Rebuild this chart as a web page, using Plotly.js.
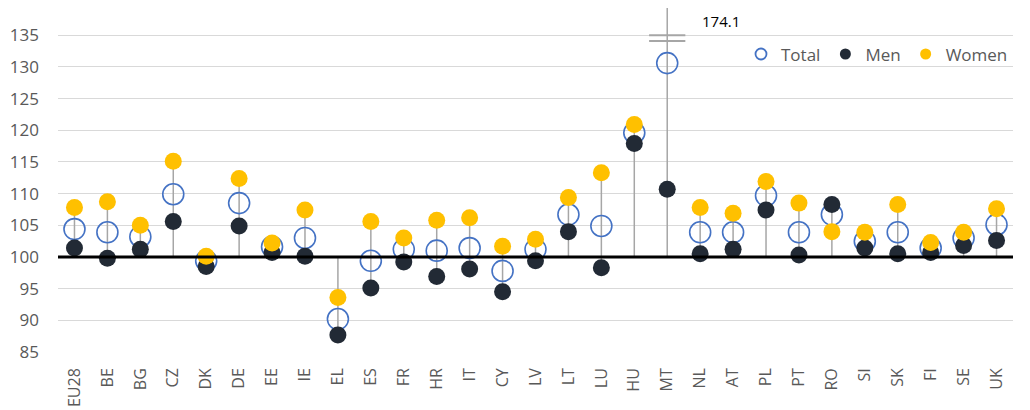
<!DOCTYPE html>
<html>
<head>
<meta charset="utf-8">
<script src="https://cdn.plot.ly/plotly-3.0.1.min.js"></script>
<style>html,body{margin:0;padding:0;background:#fff;}#chart{width:1030px;height:410px;}</style>
</head>
<body>
<div id="chart"></div>
<script>
const countries = ["EU28","BE","BG","CZ","DK","DE","EE","IE","EL","ES","FR","HR","IT","CY","LV","LT","LU","HU","MT","NL","AT","PL","PT","RO","SI","SK","FI","SE","UK"];
const total = [104.4,103.9,103.2,109.9,99.4,108.5,101.6,103.0,90.2,99.4,101.2,101.0,101.4,97.8,101.2,106.7,104.9,119.6,130.6,103.9,103.9,109.7,103.9,106.7,102.5,103.9,101.4,103.0,105.1];
const men = [101.4,99.8,101.2,105.6,98.5,104.9,100.7,100.1,87.7,95.1,99.2,96.9,98.1,94.5,99.4,104.0,98.3,117.9,110.7,100.5,101.2,107.4,100.3,108.3,101.4,100.5,100.7,101.8,102.6];
const women = [107.8,108.7,105.0,115.1,100.1,112.4,102.2,107.4,93.6,105.6,103.0,105.8,106.2,101.7,102.8,109.4,113.3,120.9,174.1,107.8,106.9,111.9,108.5,104.0,103.9,108.3,102.3,103.9,107.6];
const baseline = 100;
const yTicks = [85,90,95,100,105,110,115,120,125,130,135];
const outlierLabel = "174.1";
const outlierCountry = "MT";

const stemX = [], stemY = [];
countries.forEach((c, i) => {
  const vals = [baseline, total[i], men[i], women[i]];
  stemX.push(c, c, null);
  stemY.push(Math.min(...vals), Math.max(...vals), null);
});

const font = "Open Sans, Noto Sans, sans-serif";
const cTotal = "#4472C4", cMen = "#222A35", cWomen = "#FFC000";
const traces = [
  {x: stemX, y: stemY, mode: "lines", line: {color: "#A6A6A6", width: 1.5}, showlegend: false, hoverinfo: "skip"},
  {x: countries, y: total, name: "Total", mode: "markers", showlegend: false, marker: {symbol: "circle-open", size: 21, color: cTotal, line: {width: 1.6}}},
  {x: countries, y: men, name: "Men", mode: "markers", showlegend: false, marker: {symbol: "circle", size: 17, color: cMen}},
  {x: countries, y: women, name: "Women", mode: "markers", showlegend: false, marker: {symbol: "circle", size: 17, color: cWomen}},
  // legend entries with smaller symbols, as in the reference legend
  {x: [null], y: [null], name: "Total", mode: "markers", marker: {symbol: "circle-open", size: 11, color: cTotal, line: {width: 1.8}}},
  {x: [null], y: [null], name: "Men", mode: "markers", marker: {symbol: "circle", size: 11, color: cMen}},
  {x: [null], y: [null], name: "Women", mode: "markers", marker: {symbol: "circle", size: 11, color: cWomen}}
];

const mtIdx = countries.indexOf(outlierCountry);
const layout = {
  width: 1030, height: 410,
  margin: {l: 58, r: 17, t: 8, b: 58},
  paper_bgcolor: "#fff", plot_bgcolor: "#fff",
  font: {family: font, size: 16, color: "#595959"},
  showlegend: true,
  legend: {orientation: "h", x: 1.0, xanchor: "right", y: 0.865, yanchor: "middle", font: {size: 17, color: "#595959"}, bgcolor: "rgba(0,0,0,0)", itemwidth: 30, tracegroupgap: 0},
  xaxis: {type: "category", range: [-0.5, countries.length - 0.5], showgrid: false, zeroline: false, showline: false, ticks: "", tickangle: -90, tickfont: {size: 16, color: "#595959"}, ticklabelstandoff: 12},
  yaxis: {range: [85, 139.3], tickvals: yTicks, showgrid: true, gridcolor: "#D9D9D9", gridwidth: 1, zeroline: false, showline: false, ticks: "", tickfont: {size: 17, color: "#595959"}, ticklabelstandoff: 18},
  shapes: [
    {type: "line", xref: "paper", x0: 0, x1: 1, yref: "y", y0: baseline, y1: baseline, line: {color: "#000", width: 3}, layer: "above"},
    {type: "line", xref: "x", x0: mtIdx - 0.55, x1: mtIdx + 0.55, yref: "y", y0: 135.0, y1: 135.0, line: {color: "#A6A6A6", width: 2}},
    {type: "line", xref: "x", x0: mtIdx - 0.55, x1: mtIdx + 0.55, yref: "y", y0: 134.1, y1: 134.1, line: {color: "#A6A6A6", width: 2}}
  ],
  annotations: [
    {x: outlierCountry, y: 137.2, xref: "x", yref: "y", text: outlierLabel, showarrow: false, xshift: 54, font: {size: 15, color: "#000"}}
  ]
};
Plotly.newPlot("chart", traces, layout, {displayModeBar: false, staticPlot: true});
</script>
</body>
</html>
